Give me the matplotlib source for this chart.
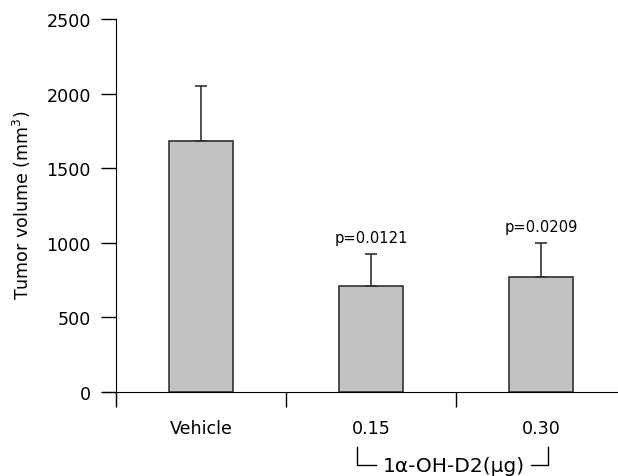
import matplotlib
matplotlib.use("Agg")
import matplotlib.pyplot as plt
from matplotlib.transforms import blended_transform_factory
from matplotlib.lines import Line2D

plt.rcParams['font.family'] = ['DejaVu Sans']
plt.rcParams['mathtext.fontset'] = 'dejavusans'

groups = ["Vehicle", "0.15", "0.30"]
volume = [1684, 712, 773]
sem = [365, 213, 226]
p_labels = ["", "p=0.0121", "p=0.0209"]
yticks = [0, 500, 1000, 1500, 2000, 2500]

fig = plt.figure(figsize=(6.18, 4.77), dpi=100)
ax = fig.add_axes([104 / 618, 73 / 477, 514 / 618, 384 / 477])

x = list(range(len(groups)))
ax.bar(x, volume, width=0.375, color="#c1c2c4", edgecolor="#333333", linewidth=1.2,
       yerr=[[0] * len(sem), sem], error_kw=dict(ecolor="#333333", elinewidth=1.2, capsize=4.3, capthick=1.2),
       zorder=2)

for xi, v, e, lab in zip(x, volume, sem, p_labels):
    if lab:
        ax.text(xi, v + e + 60, lab, ha="center", va="bottom", fontsize=10.6)

ax.set_xlim(-0.5706, 2.453)
ax.set_ylim(-74, 2500)

ax.spines["top"].set_visible(False)
ax.spines["right"].set_visible(False)
ax.spines["left"].set_position(("data", -0.5))
ax.spines["bottom"].set_position(("data", 0))
ax.spines["left"].set_bounds(-74, 2500)

ax.set_yticks(yticks)
ax.tick_params(axis="y", direction="out", length=11, width=1, labelsize=12.6, pad=7)

ax.set_xticks([-0.5, 0.5, 1.5])
ax.set_xticklabels([])
ax.tick_params(axis="x", direction="out", length=11, width=1)
for xi, g in zip(x, groups):
    ax.text(xi, -240, g, ha="center", va="center", fontsize=12.6)

ax.set_ylabel("Tumor volume (mm$^3$)", fontsize=12.6)
ax.yaxis.set_label_coords(-0.138, 0.518)

# bracket under the dose groups
tr = blended_transform_factory(ax.transData, fig.transFigure)
y_top, y_bot = 1 - 448 / 477, 1 - 466 / 477
ax.add_line(Line2D([0.918, 0.918, 1.03], [y_top, y_bot, y_bot], transform=tr, color="black", lw=1, clip_on=False))
ax.add_line(Line2D([1.94, 2.04, 2.04], [y_bot, y_bot, y_top], transform=tr, color="black", lw=1, clip_on=False))
ax.text(1.485, 0.0015, "1\u03b1-OH-D2(\u03bcg)", transform=tr, ha="center", va="bottom", fontsize=14.5)

fig.savefig("out.png", dpi=100)
